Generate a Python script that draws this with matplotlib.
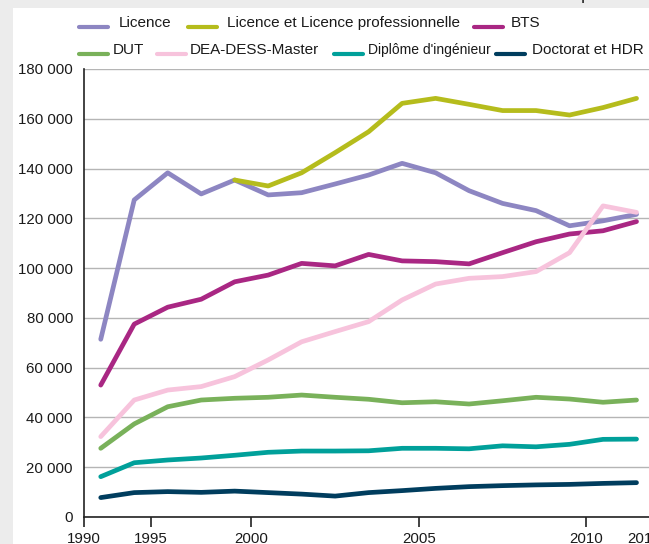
#!/usr/bin/env python3
# Effectifs de diplômés par type de diplôme, 1990-2011

import numpy as np
import matplotlib.pyplot as plt
from matplotlib.lines import Line2D
from matplotlib.patches import Rectangle
from matplotlib.ticker import FuncFormatter

# values (17 points per series)
licence = [71400, 127400, 138300, 129800, 135400, 129400, 130300, 133800, 137400,
           142100, 138300, 131100, 126000, 123100, 117000, 119000, 121600]
licence_pro = [None, None, None, None, 135400, 133000, 138300, 146400, 154800,
               166200, 168200, 165800, 163300, 163300, 161500, 164500, 168200]
bts = [53000, 77500, 84300, 87500, 94500, 97200, 101900, 100900, 105500,
       102900, 102600, 101700, 106200, 110600, 113700, 115000, 118700]
dut = [27600, 37400, 44300, 47000, 47700, 48100, 49000, 48100, 47300,
       45900, 46300, 45400, 46700, 48100, 47400, 46100, 47000]
master = [32300, 47000, 51000, 52400, 56400, 63100, 70400, 74500, 78500,
          87200, 93600, 95900, 96600, 98600, 106200, 125000, 122400]
ingenieur = [16200, 21800, 22900, 23700, 24800, 26000, 26500, 26500, 26600,
             27600, 27600, 27400, 28600, 28200, 29200, 31200, 31300]
doctorat = [7800, 9800, 10200, 9900, 10400, 9800, 9200, 8400, 9800,
            10600, 11500, 12200, 12600, 12900, 13100, 13500, 13800]

series_names = ["Licence", "Licence et Licence professionnelle", "BTS", "DUT",
                "DEA-DESS-Master", "Diplôme d'ingénieur", "Doctorat et HDR"]
series_values = [licence, licence_pro, bts, dut, master, ingenieur, doctorat]
colors = ["#8d86c2", "#b5bc1c", "#a92783", "#79b15a", "#f7c3dc", "#00a09a", "#003d5e"]

year_ticks = [-0.5, 1.5, 4.5, 9.5, 14.5]
year_labels = ["1990", "1995", "2000", "2005", "2010"]
last_label = "2011"

W, H = 649, 544
fig = plt.figure(figsize=(W / 100, H / 100), dpi=100)
fig.patch.set_facecolor("white")
fig.add_artist(Rectangle((0, 0), 13 / W, 1, transform=fig.transFigure,
                         color="#ececec", lw=0))
fig.add_artist(Rectangle((0, 1 - 8 / H), 1, 8 / H, transform=fig.transFigure,
                         color="#ececec", lw=0))
fig.text(581 / W, 1.0 + 1 / H, "p", fontsize=13, va="baseline",
         family="Liberation Sans", color="#222222")

ax = fig.add_axes([84 / W, 27 / H, 586 / W, 448 / H])
x = np.arange(len(licence))
for vals, c in zip(series_values, colors):
    y = np.array([np.nan if v is None else v for v in vals], dtype=float)
    ax.plot(x, y, color=c, lw=3.4, solid_capstyle="round", solid_joinstyle="round",
            clip_on=False, zorder=3)

ax.set_xlim(-0.5, 17.0)
ax.set_ylim(0, 180000)
ax.set_yticks(np.arange(0, 180001, 20000))
ax.yaxis.set_major_formatter(FuncFormatter(lambda v, p: f"{v:,.0f}".replace(",", " ")))
ax.grid(axis="y", color="#b5b5b5", lw=1.0, zorder=0)
ax.set_axisbelow(True)

ax.set_xticks(year_ticks, year_labels)
ax.set_xticks([16.2], [last_label], minor=True)
ax.tick_params(axis="x", which="major", length=7.5, width=1.2, pad=3, color="#222222")
ax.tick_params(axis="x", which="minor", length=7.5, width=0, pad=3)
ax.tick_params(axis="y", length=0, pad=8)
for lab in ax.get_xticklabels(which="both") + ax.get_yticklabels():
    lab.set_family("Liberation Sans")
    lab.set_fontsize(10.8)
    lab.set_color("#1a1a1a")

for s in ["top", "right"]:
    ax.spines[s].set_visible(False)
for s in ["left", "bottom"]:
    ax.spines[s].set_color("#222222")
    ax.spines[s].set_linewidth(1.2)

# legend, two rows placed like the original
legend_pos = [(79, 119, 27), (188, 227, 27), (474, 511, 27),
              (79, 113, 54), (157, 190, 54), (334, 368, 54), (496, 532, 54)]
legend_size = [11, 11, 11, 11, 11, 10, 11]
for name, c, (hx, tx, by), fs in zip(series_names, colors, legend_pos, legend_size):
    fy = 1 - by / H
    fig.add_artist(Line2D([hx / W, (hx + 29) / W], [fy, fy], transform=fig.transFigure,
                          color=c, lw=3.0, solid_capstyle="round"))
    fig.text(tx / W, fy, name, fontsize=fs, va="baseline", family="Liberation Sans",
             color="#1a1a1a")

fig.savefig("out.png", dpi=100)
